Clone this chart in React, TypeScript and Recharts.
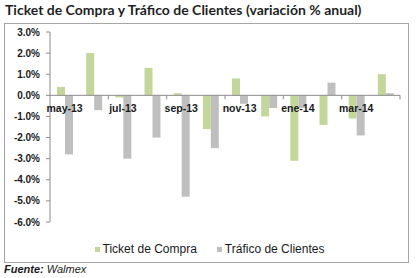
import { Bar, BarChart, Legend, ReferenceLine, XAxis, YAxis } from "recharts";

// Variación % anual por mes
const months = [
  "may-13", "jun-13", "jul-13", "ago-13", "sep-13", "oct-13",
  "nov-13", "dic-13", "ene-14", "feb-14", "mar-14", "abr-14",
];
const ticketCompra = [0.4, 2.0, -0.1, 1.3, 0.1, -1.6, 0.8, -1.0, -3.1, -1.4, -1.1, 1.0];
const traficoClientes = [-2.8, -0.7, -3.0, -2.0, -4.8, -2.5, -0.4, -0.6, -0.6, 0.6, -1.9, 0.1];
const yTicks = [3, 2, 1, 0, -1, -2, -3, -4, -5, -6];

const SERIES = [
  { key: "ticket", name: "Ticket de Compra", color: "#c4d79b" },
  { key: "trafico", name: "Tráfico de Clientes", color: "#bfbfbf" },
];

const W = 417;
const H = 278;
const X_AXIS_H = 1;
const MARGIN = { top: 32, right: 17, left: 0, bottom: 15 };
const Y_AXIS_W = 50;
const LEGEND_H = 40;
const Y_MIN = -6;
const Y_MAX = 3;
const AXIS = "#8c8c8c";
const FONT = "'Liberation Sans', Arial, sans-serif";

const PLOT_TOP = MARGIN.top;
const PLOT_BOTTOM = H - MARGIN.bottom - LEGEND_H - X_AXIS_H;
const ZERO_Y = PLOT_TOP + ((PLOT_BOTTOM - PLOT_TOP) * Y_MAX) / (Y_MAX - Y_MIN);
const BAND = (W - MARGIN.left - MARGIN.right - Y_AXIS_W) / months.length;

const data = months.map((m, i) => ({
  month: m,
  ticket: ticketCompra[i],
  trafico: traficoClientes[i],
}));

// month labels sit on the zero line, every other month, ticks between pairs
function renderMonthTick(props: any) {
  const { x, index, payload } = props;
  const half = BAND / 2;
  const even = index % 2 === 0;
  return (
    <g key={`mt-${index}`}>
      {even && index > 0 && (
        <line x1={x - half} x2={x - half} y1={ZERO_Y} y2={ZERO_Y + 4} stroke={AXIS} />
      )}
      {index === months.length - 1 && (
        <line x1={x + half} x2={x + half} y1={ZERO_Y} y2={ZERO_Y + 4} stroke={AXIS} />
      )}
      {even && (
        <text
          x={x}
          y={ZERO_Y + 17}
          textAnchor="middle"
          fontFamily={FONT}
          fontSize={10.5}
          fontWeight="bold"
          fill="#1a1a1a"
        >
          {payload.value}
        </text>
      )}
    </g>
  );
}

function LegendRow() {
  return (
    <div
      style={{
        height: LEGEND_H,
        boxSizing: "border-box",
        paddingTop: 16,
        paddingLeft: 19,
        display: "flex",
        justifyContent: "center",
        alignItems: "flex-start",
        fontFamily: FONT,
        fontSize: 12,
        color: "#1a1a1a",
      }}
    >
      {SERIES.map((s, i) => (
        <div
          key={s.key}
          style={{ display: "flex", alignItems: "center", height: 20, marginLeft: i ? 20 : 0 }}
        >
          <span style={{ width: 5, height: 5, background: s.color, marginRight: 3 }} />
          {s.name}
        </div>
      ))}
    </div>
  );
}

export default function App() {
  return (
    <div
      style={{
        position: "absolute",
        left: 0,
        top: 0,
        width: W,
        height: H,
        background: "#fff",
        overflow: "hidden",
      }}
    >
      <div
        style={{
          position: "absolute",
          left: 5,
          top: 1,
          fontFamily: "Lato, sans-serif",
          fontWeight: 700,
          fontSize: 14,
          color: "#1f1f1f",
          whiteSpace: "nowrap",
        }}
      >
        Ticket de Compra y Tráfico de Clientes (variación % anual)
      </div>
      <div
        style={{
          position: "absolute",
          left: 4,
          top: 23,
          width: 405,
          height: 240,
          boxSizing: "border-box",
          border: "1px solid #a6a6a6",
        }}
      />
      <div style={{ position: "absolute", left: 0, top: 0 }}>
        <BarChart
          width={W}
          height={H}
          data={data}
          margin={MARGIN}
          barSize={8}
          barGap={0}
        >
          <YAxis
            width={Y_AXIS_W}
            domain={[Y_MIN, Y_MAX]}
            ticks={yTicks}
            interval={0}
            allowDataOverflow
            tickFormatter={(v: number) => `${v.toFixed(1)}%`}
            axisLine={{ stroke: AXIS }}
            tickLine={{ stroke: AXIS }}
            tickSize={4}
            tickMargin={6}
            tick={{ fill: "#1a1a1a", fontSize: 10, fontWeight: "bold", fontFamily: FONT }}
          />
          <ReferenceLine y={0} stroke={AXIS} />
          {SERIES.map((s) => (
            <Bar
              key={s.key}
              dataKey={s.key}
              name={s.name}
              fill={s.color}
              isAnimationActive={false}
            />
          ))}
          <XAxis
            dataKey="month"
            height={X_AXIS_H}
            interval={0}
            axisLine={false}
            tickLine={false}
            tick={renderMonthTick}
          />
          <Legend verticalAlign="bottom" height={LEGEND_H} content={() => <LegendRow />} />
        </BarChart>
      </div>
      <div
        style={{
          position: "absolute",
          left: 4,
          top: 263,
          fontFamily: FONT,
          fontSize: 11,
          fontStyle: "italic",
          color: "#1a1a1a",
        }}
      >
        <b>Fuente:</b> Walmex
      </div>
    </div>
  );
}
